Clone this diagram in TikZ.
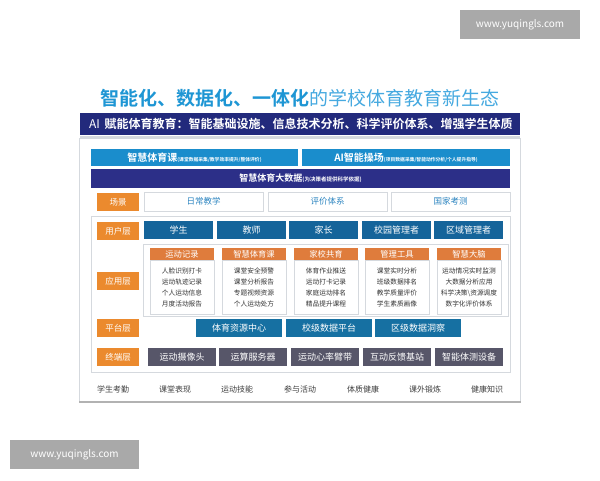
\documentclass[tikz,border=0pt]{standalone}
\usepackage{fontspec}
\setmainfont{Noto Sans CJK SC}[BoldFont=* Bold]
\usepackage{tikz}
\definecolor{titleblue}{HTML}{1E96D4}
\definecolor{titlelight}{HTML}{45A9E0}
\definecolor{navy}{HTML}{222A7C}
\definecolor{bignavy}{HTML}{2C2F88}
\definecolor{skyblue}{HTML}{1A8DCC}
\definecolor{userblue}{HTML}{15649A}
\definecolor{platblue}{HTML}{1670A2}
\definecolor{termgray}{HTML}{575669}
\definecolor{labelorange}{HTML}{EB8A2E}
\definecolor{cardorange}{HTML}{DF7C3C}
\definecolor{scenetext}{HTML}{2E86C1}
\definecolor{framegray}{HTML}{D5D9DE}
\definecolor{markgray}{HTML}{A9A9A9}

\begin{document}
\begin{tikzpicture}[x=1pt,y=-1pt]
  \tikzstyle{every node}=[inner sep=0pt,outer sep=0pt]
  \tikzstyle{box}=[anchor=north west,text=white,font=\fontsize{9}{10}\selectfont]
  \tikzstyle{layer}=[box,fill=labelorange,minimum width=42pt,minimum height=18pt,font=\fontsize{8.5}{10}\selectfont]
  \tikzstyle{scenebox}=[box,draw=framegray,fill=white,text=scenetext,minimum width=119pt,minimum height=19pt,font=\fontsize{8.5}{10}\selectfont]
  \tikzstyle{userbox}=[box,fill=userblue,minimum width=69pt,minimum height=18pt]
  \tikzstyle{cardhead}=[box,fill=cardorange,minimum width=64pt,minimum height=12pt,font=\fontsize{8.3}{10}\selectfont]
  \tikzstyle{cardbody}=[box,draw=framegray,fill=white,text=black!80,minimum width=64pt,minimum height=54pt,align=center,font=\fontsize{6.7}{11}\selectfont]
  \tikzstyle{platbox}=[box,fill=platblue,minimum width=86pt,minimum height=18pt]
  \tikzstyle{termbox}=[box,fill=termgray,minimum width=68pt,minimum height=18pt]
  \tikzstyle{bottomtext}=[text=black!75,font=\fontsize{8}{10}\selectfont]
  \useasboundingbox[fill=white] (0,0) rectangle (600,480);

  \node[box,fill=markgray,minimum width=120pt,minimum height=29pt,font=\fontsize{10}{12}\selectfont]
    (markone) at (460,10) {www.yuqingls.com};
  \node[box,fill=markgray,minimum width=129pt,minimum height=29pt,font=\fontsize{10}{12}\selectfont]
    (marktwo) at (10,440) {www.yuqingls.com};

  \node[font=\fontsize{19}{22}\selectfont] (title) at (300,98)
    {\textcolor{titleblue}{\bfseries 智能化、数据化、一体化}\textcolor{titlelight}{的学校体育教育新生态}};
  \node[box,fill=navy,minimum width=440pt,minimum height=22pt] (banner) at (80,113) {};
  \node[anchor=west,text=white,font=\fontsize{12}{13}\selectfont] (bannertext) at (89,124)
    {AI\, \bfseries 赋能体育教育：智能基础设施、信息技术分析、科学评价体系、增强学生体质};
  \draw[framegray,line width=1.5pt] (80,137) -- (520,137);
  \draw[framegray,line width=0.8pt] (79,138) rectangle (520,402);
  \draw[black!30,line width=1.5pt] (79,402) -- (521,402);

  \node[box,fill=skyblue,minimum width=207pt,minimum height=17pt] (course) at (91,149)
    {\fontsize{10}{11}\selectfont\bfseries 智慧体育课\fontsize{4.8}{6}\selectfont (课堂数据采集/教学效率提升/整体评价)};
  \node[box,fill=skyblue,minimum width=208pt,minimum height=17pt] (field) at (302,149)
    {\fontsize{10}{11}\selectfont\bfseries AI智能操场\fontsize{4.8}{6}\selectfont (项目数据采集/智能动作分析/个人提升指导)};
  \node[box,fill=bignavy,minimum width=419pt,minimum height=19pt] (bigdata) at (91,169)
    {\fontsize{9}{10}\selectfont\bfseries 智慧体育大数据\fontsize{5.5}{6}\selectfont (为决策者提供科学依据)};

  \node[layer] (scene) at (97,193) {场景};
  \node[scenebox] (daily) at (144,192) {日常教学};
  \node[scenebox] (evalsys) at (268,192) {评价体系};
  \node[scenebox] (exam) at (391,192) {国家考测};

  \draw[framegray,line width=0.6pt] (91,216) rectangle (510,372);

  \node[layer] (user) at (97,222) {用户层};
  \node[userbox] (student) at (144,221) {学生};
  \node[userbox] (teacher) at (217,221) {教师};
  \node[userbox] (parent) at (289,221) {家长};
  \node[userbox] (campus) at (362,221) {校园管理者};
  \node[userbox] (region) at (434,221) {区域管理者};

  \node[layer] (app) at (97,272) {应用层};
  \draw[framegray,line width=0.5pt] (143,244) rectangle (508,316);
  \node[cardhead] (rechead) at (150,248) {运动记录};
  \node[cardbody] (recbody) at (150,260) {人脸识别打卡\\运动轨迹记录\\个人运动信息\\月度活动报告};
  \node[cardhead] (pehead) at (222,248) {智慧体育课};
  \node[cardbody] (pebody) at (222,260) {课堂安全预警\\课堂分析报告\\专题视频资源\\个人运动处方};
  \node[cardhead] (homehead) at (294,248) {家校共育};
  \node[cardbody] (homebody) at (294,260) {体育作业推送\\运动打卡记录\\家庭运动排名\\精品提升课程};
  \node[cardhead] (toolhead) at (365,248) {管理工具};
  \node[cardbody] (toolbody) at (365,260) {课堂实时分析\\班级数据排名\\教学质量评价\\学生素质画像};
  \node[cardhead] (brainhead) at (437,248) {智慧大脑};
  \node[cardbody] (brainbody) at (437,260) {运动情况实时监测\\大数据分析应用\\科学决策\textbackslash 资源调度\\数字化评价体系};

  \node[layer] (plat) at (97,319) {平台层};
  \node[platbox] (res) at (196,319) {体育资源中心};
  \node[platbox] (school) at (286,319) {校级数据平台};
  \node[platbox] (district) at (375,319) {区级数据洞察};

  \node[layer] (term) at (97,348) {终端层};
  \node[termbox] (camera) at (148,348) {运动摄像头};
  \node[termbox] (server) at (219,348) {运算服务器};
  \node[termbox] (band) at (291,348) {运动心率臂带};
  \node[termbox] (station) at (363,348) {互动反馈基站};
  \node[termbox] (device) at (435,348) {智能体测设备};

  \node[bottomtext] (attend) at (113,389) {学生考勤};
  \node[bottomtext] (perform) at (175,389) {课堂表现};
  \node[bottomtext] (skill) at (237,389) {运动技能};
  \node[bottomtext] (join) at (300,389) {参与活动};
  \node[bottomtext] (health) at (363,389) {体质健康};
  \node[bottomtext] (extra) at (425,389) {课外锻炼};
  \node[bottomtext] (know) at (487,389) {健康知识};
\end{tikzpicture}
\end{document}
